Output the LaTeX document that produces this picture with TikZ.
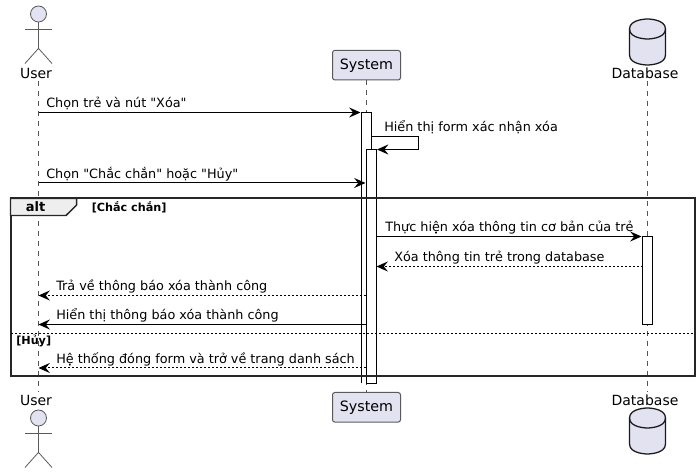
\documentclass[tikz,border=0pt]{standalone}
\usepackage{fontspec}
\setmainfont{DejaVu Sans}[Ligatures=TeXOff]
\usetikzlibrary{arrows.meta}

\definecolor{partfill}{HTML}{E2E2F0}
\definecolor{partline}{HTML}{5A5A5A}
\definecolor{lifecol}{HTML}{555555}
\definecolor{tabfill}{HTML}{EEEEEE}

\tikzset{
  msgtext/.style={anchor=base west, inner sep=0pt, font=\fontsize{9.6pt}{11pt}\selectfont},
  parttext/.style={anchor=base, inner sep=0pt, font=\fontsize{10.5pt}{12pt}\selectfont},
  guardtext/.style={anchor=base west, inner sep=0pt, font=\bfseries\fontsize{8.4pt}{10pt}\selectfont},
  partbox/.style={draw=partline, fill=partfill, rounded corners=1.8pt, line width=0.75pt, minimum width=51pt, minimum height=22.2pt, inner sep=0pt, font=\fontsize{10.7pt}{12pt}\selectfont},
  userhead/.style={circle, draw=partline, fill=partfill, line width=0.6pt, minimum size=12pt, inner sep=0pt},
  userline/.style={draw=partline, line width=0.6pt},
  lifeline/.style={draw=lifecol, line width=0.6pt, dash pattern=on 3.75pt off 3.75pt},
  actbox/.style={draw=black, fill=white, line width=0.75pt},
  msgsolid/.style={draw=black, line width=0.75pt, -{Stealth[length=8.5pt, width=7.5pt, inset=3pt]}},
  msgdash/.style={msgsolid, dash pattern=on 1.5pt off 1.5pt},
  framebox/.style={draw=black!85, line width=1.5pt},
}

\begin{document}
\begin{tikzpicture}[x=0.75pt, y=-0.75pt]
 \useasboundingbox (0,0) rectangle (700,473);

 \def\xu{38.5};
 \def\xs{366.5};
 \def\xd{647.5};

 %lifelines
 \foreach \name/\x/\ya/\yb in { user/\xu/81/392, sys/\xs/80/392, db/\xd/81/392 }{
   \coordinate (\name top) at (\x,\ya);
   \coordinate (\name bot) at (\x,\yb);
   \draw[lifeline] (\name top) -- (\name bot);
 }

 %actor
 \foreach \name/\ay/\ly in { top/14/78.5, bot/418/405.5 }{
   \node[userhead] (head\name) at (\xu,\ay) {};
   \draw[userline] (head\name.south) -- ++(0,26) coordinate (hip\name);
   \draw[userline] (\xu-13.5,\ay+15) -- (\xu+13.5,\ay+15);
   \draw[userline] (\xu-13.5,\ay+49.5) -- (hip\name) -- (\xu+13.5,\ay+49.5);
   \node[parttext] (user\name) at (36,\ly) {User};
 }

 %system box
 \foreach \name/\by in { top/65.2, bot/407.3 }{
   \node[partbox] (sys\name box) at (\xs,\by) {System};
 }

 %database
 \foreach \name/\cy/\ly in { top/19/78.5, bot/408/405.5 }{
   \draw[draw=black!90, fill=partfill, line width=0.95pt]
     (629.5,\cy+10) .. controls (629.5,\cy) and (647.5,\cy) .. (647.5,\cy)
     .. controls (647.5,\cy) and (665.5,\cy) .. (665.5,\cy+10)
     -- (665.5,\cy+36) .. controls (665.5,\cy+46) and (647.5,\cy+46) .. (647.5,\cy+46)
     .. controls (647.5,\cy+46) and (629.5,\cy+46) .. (629.5,\cy+36) -- cycle;
   \draw[draw=black!90, line width=0.95pt]
     (629.5,\cy+10) .. controls (629.5,\cy+20) and (647.5,\cy+20) .. (647.5,\cy+20)
     .. controls (647.5,\cy+20) and (665.5,\cy+20) .. (665.5,\cy+10);
   \node[parttext] (db\name) at (645,\ly) {Database};
 }

 %activations
 \fill[white] (361.5,112.5) rectangle (371.2,383.5);
 \draw[actbox] (361.5,383.5) -- (361.5,112.5) -- (371.2,112.5) -- (371.2,383.5);
 \draw[actbox] (366.5,149.5) rectangle (376.5,383.5);
 \draw[actbox] (642.5,236.5) rectangle (652.5,324.5);

 %messages
 \foreach \name/\y/\xa/\xb/\sty/\tx/\txt in {
   ma/112.5/38.5/360.5/msgsolid/46/{Chọn trẻ và nút "Xóa"},
   mb/183/38.5/365.5/msgsolid/46/{Chọn "Chắc chắn" hoặc "Hủy"},
   mc/236.5/376.5/641.5/msgsolid/385/{Thực hiện xóa thông tin cơ bản của trẻ},
   md/266.5/642.5/376.5/msgdash/394/{Xóa thông tin trẻ trong database},
   me/295.5/366/38.5/msgdash/56/{Trả về thông báo xóa thành công},
   mf/324.5/366/38.5/msgsolid/56/{Hiển thị thông báo xóa thành công},
   mg/368/366/38.5/msgdash/56/{Hệ thống đóng form và trở về trang danh sách} }{
   \coordinate (\name a) at (\xa,\y);
   \coordinate (\name b) at (\xb,\y);
   \draw[\sty] (\name a) -- (\name b);
   \node[msgtext] (\name t) at (\tx,\y-4.5) {\txt};
 }

 %self message
 \coordinate (selfa) at (371.2,136.5);
 \coordinate (selfb) at (418.5,136.5);
 \coordinate (selfc) at (418.5,149.5);
 \coordinate (selfd) at (377,149.5);
 \draw[msgsolid] (selfa) -- (selfb) -- (selfc) -- (selfd);
 \node[msgtext] (selft) at (384,132) {Hiển thị form xác nhận xóa};

 %alt frame
 \draw[framebox] (10.5,198.5) rectangle (694.5,376);
 \draw[framebox, line width=1.1pt, fill=tabfill] (10.5,198.5) -- (76.7,198.5) -- (76.7,205) -- (66,215.5) -- (10.5,215.5) -- cycle;
 \node[anchor=base, inner sep=0pt, font=\bfseries\fontsize{9.75pt}{11pt}\selectfont] (altlabel) at (35.5,212) {alt};
 \node[guardtext] (guardyes) at (91.5,211.5) {[Chắc chắn]};
 \coordinate (sepa) at (11,333.3);
 \coordinate (sepb) at (694,333.3);
 \draw[draw=black, line width=0.75pt, dash pattern=on 1.5pt off 1.5pt] (sepa) -- (sepb);
 \node[guardtext] (guardno) at (16,345) {[Hủy]};

\end{tikzpicture}
\end{document}
